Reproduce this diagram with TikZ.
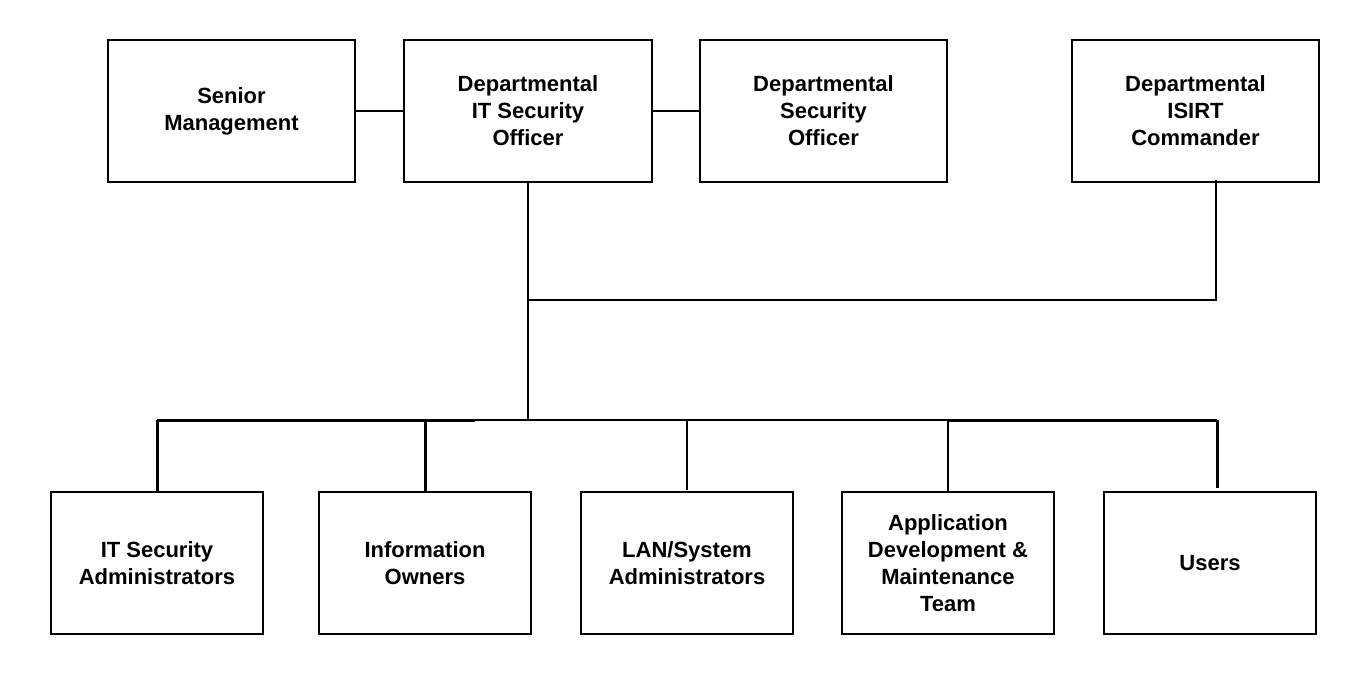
\documentclass[tikz,border=0pt]{standalone}
\usepackage{fontspec}
\setmainfont{Liberation Sans}
\begin{document}
\begin{tikzpicture}[x=1pt,y=-1pt,
  box/.style={draw,line width=1.3pt,minimum width=247pt,minimum height=142pt,
    align=center,font=\fontsize{22}{27}\selectfont\bfseries,inner sep=0pt},
  lowbox/.style={box,minimum width=212pt},
  thin/.style={line width=1.2pt},
  thick/.style={line width=3pt}]
\useasboundingbox (0,0) rectangle (1371,679);
% top row
\node[box] (sm)    at (231.5,111) {Senior\\Management};
\node[box,minimum width=248pt] (ditso) at (528,111) {Departmental\\IT Security\\Officer};
\node[box] (dso)   at (823.5,111) {Departmental\\Security\\Officer};
\node[box] (isirt) at (1195.5,111) {Departmental\\ISIRT\\Commander};
% bottom row
\node[lowbox] (itsa) at (157,563) {IT Security\\Administrators};
\node[lowbox] (io)   at (425,563) {Information\\Owners};
\node[lowbox] (lan)  at (687,563) {LAN/System\\Administrators};
\node[lowbox] (app)  at (948,563) {Application\\Development \&\\Maintenance\\Team};
\node[lowbox] (usr)  at (1210,563) {Users};
% links between top boxes
\draw[thin] (sm.east) -- (ditso.west);
\draw[thin] (ditso.east) -- (dso.west);
% trunk and ISIRT branch
\coordinate (join) at (528,300);
\coordinate (bus)  at (528,420);
\coordinate (isb)  at (1216,180);
\draw[thin] (ditso.south) -- (join) -- (bus);
\draw[thin] (isb) |- (join);
% bottom bus
\coordinate (bl) at (157,420);
\coordinate (br) at (1217,420);
\draw[thin] (bl) -- (br);
\draw[thick] (bl) -- (475,420);
\draw[thick] (948,420) -- (br);
\draw[thick] (bl) -- (itsa.north);
\draw[thick] (425,420) -- (io.north);
\draw[thin] (687,420) -- (687,490);
\draw[thin] (948,420) -- (app.north);
\draw[thick] (br) -- (1217,488);
\end{tikzpicture}
\end{document}
